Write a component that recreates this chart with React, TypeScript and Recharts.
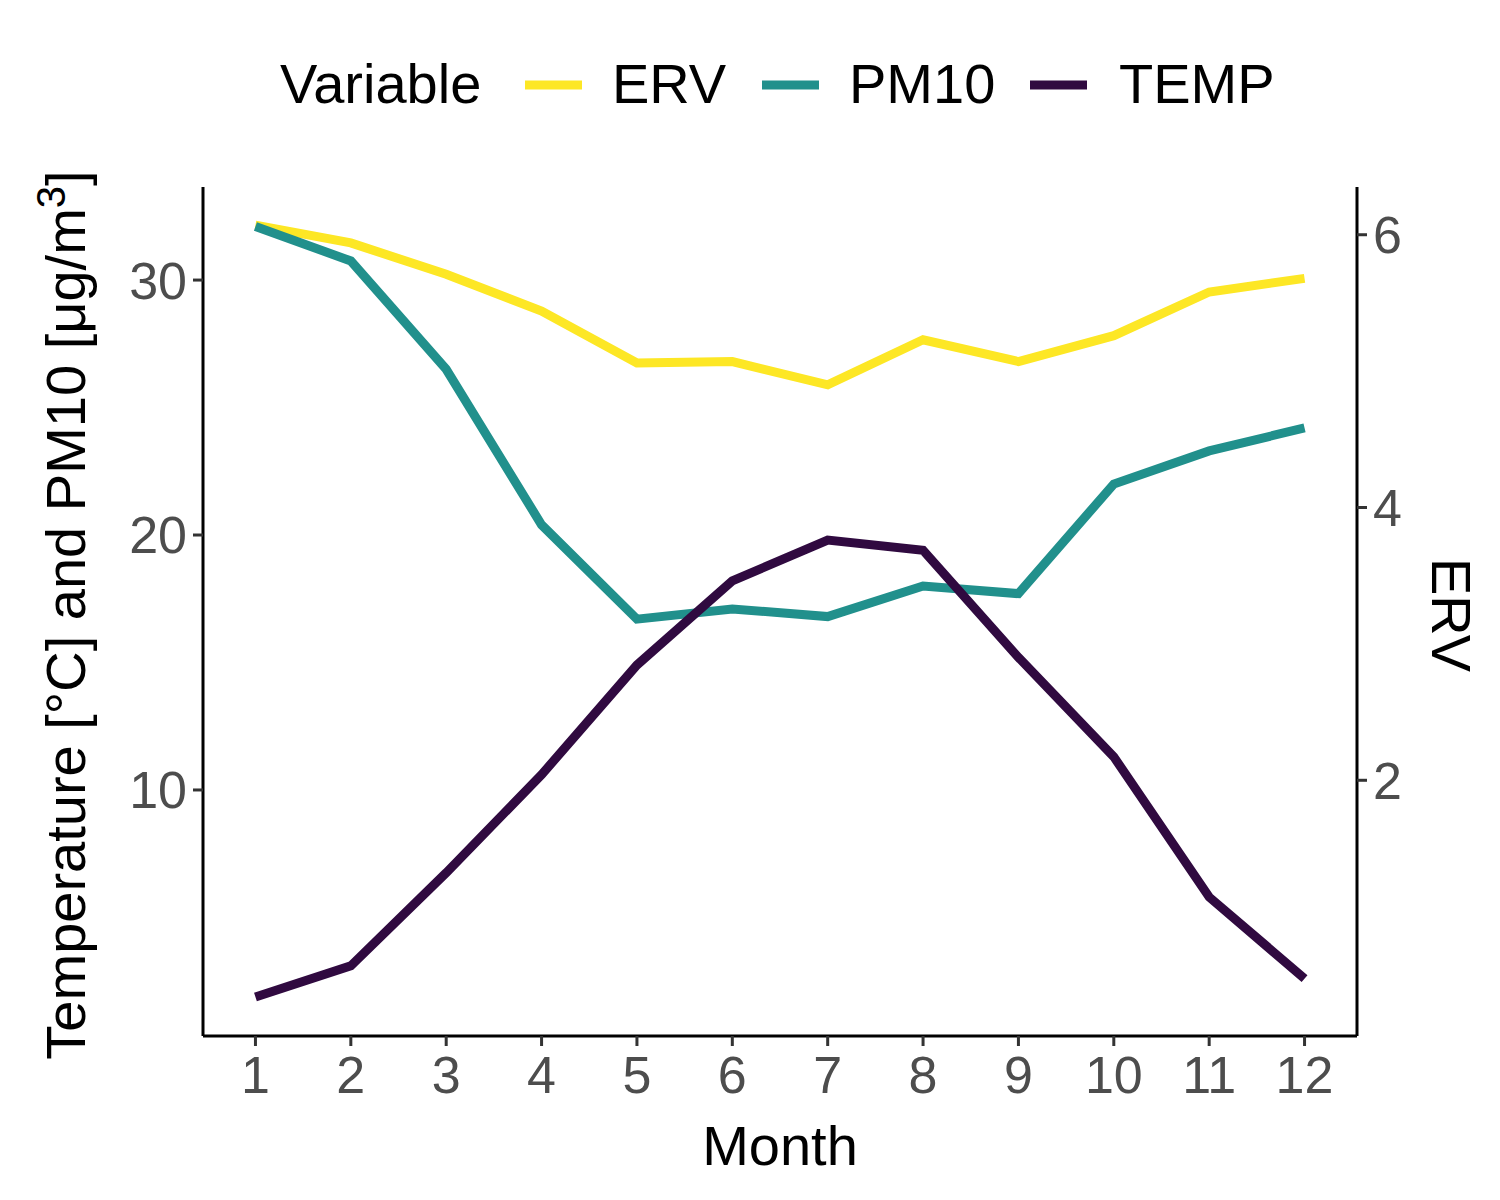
import { LineChart, Line, XAxis, YAxis } from "recharts";

const months = [1, 2, 3, 4, 5, 6, 7, 8, 9, 10, 11, 12];
const erv = [6.07, 5.94, 5.71, 5.44, 5.06, 5.07, 4.9, 5.23, 5.07, 5.26, 5.58, 5.68];
const pm10 = [32.1, 30.75, 26.5, 20.4, 16.7, 17.1, 16.8, 18.0, 17.7, 22.0, 23.3, 24.2];
const temp = [1.88, 3.1, 6.75, 10.6, 14.9, 18.2, 19.8, 19.4, 15.2, 11.3, 5.8, 2.6];

const data = months.map((m, i) => ({ month: m, ERV: erv[i], PM10: pm10[i], TEMP: temp[i] }));

const font = "'Liberation Sans', Arial, sans-serif";
const tickStyle = { fill: "#4d4d4d", fontSize: 52, fontFamily: font };
const colors = { ERV: "#FDE725", PM10: "#21908C", TEMP: "#300a40" };

export default function App() {
  return (
    <div style={{ position: "absolute", left: 0, top: 0, width: 1500, height: 1200, background: "#fff" }}>
      <LineChart width={1500} height={1200} data={data} margin={{ top: 187, left: 103, right: 43, bottom: 84 }}>
        <XAxis
          dataKey="month"
          type="number"
          domain={[0.45, 12.55]}
          ticks={months}
          allowDataOverflow
          height={80}
          tick={tickStyle}
          tickSize={10}
          tickMargin={10}
          axisLine={{ stroke: "#000", strokeWidth: 3 }}
          tickLine={{ stroke: "#333", strokeWidth: 3 }}
        />
        <YAxis
          yAxisId="left"
          domain={[0.35, 33.65]}
          ticks={[10, 20, 30]}
          allowDataOverflow
          width={100}
          tick={tickStyle}
          tickSize={10}
          tickMargin={6}
          axisLine={{ stroke: "#000", strokeWidth: 3 }}
          tickLine={{ stroke: "#333", strokeWidth: 3 }}
        />
        <YAxis
          yAxisId="right"
          orientation="right"
          domain={[0.125, 6.35]}
          ticks={[2, 4, 6]}
          allowDataOverflow
          width={100}
          tick={tickStyle}
          tickSize={10}
          tickMargin={6}
          axisLine={{ stroke: "#000", strokeWidth: 3 }}
          tickLine={{ stroke: "#333", strokeWidth: 3 }}
        />
        <Line yAxisId="right" dataKey="ERV" stroke={colors.ERV} strokeWidth={9} dot={false} isAnimationActive={false} />
        <Line yAxisId="left" dataKey="PM10" stroke={colors.PM10} strokeWidth={9} dot={false} isAnimationActive={false} />
        <Line yAxisId="left" dataKey="TEMP" stroke={colors.TEMP} strokeWidth={9} dot={false} isAnimationActive={false} />
      </LineChart>
      <svg width={1500} height={1200} style={{ position: "absolute", left: 0, top: 0, pointerEvents: "none" }} fontFamily={font}>
        <text x={280} y={103} fontSize={56}>Variable</text>
        <line x1={525} x2={582} y1={85} y2={85} stroke={colors.ERV} strokeWidth={9} />
        <text x={612} y={103} fontSize={56}>ERV</text>
        <line x1={762} x2={819} y1={85} y2={85} stroke={colors.PM10} strokeWidth={9} />
        <text x={849} y={103} fontSize={56}>PM10</text>
        <line x1={1030} x2={1087} y1={85} y2={85} stroke={colors.TEMP} strokeWidth={9} />
        <text x={1119} y={103} fontSize={56}>TEMP</text>
        <text x={780} y={1165} fontSize={56} textAnchor="middle">Month</text>
        <text x={1432} y={615} fontSize={56} textAnchor="middle" transform="rotate(90 1432 615)">ERV</text>
        <text x={85} y={615} fontSize={56} textAnchor="middle" transform="rotate(-90 85 615)">
          Temperature [°C] and PM10 [μg/m<tspan dy={-20} fontSize={40}>3</tspan><tspan dy={20}>]</tspan>
        </text>
      </svg>
    </div>
  );
}
